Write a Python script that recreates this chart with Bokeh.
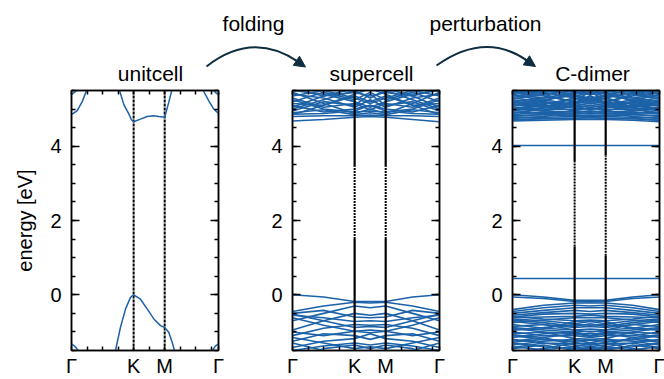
from bokeh.plotting import figure
from bokeh.models import (Range1d, LinearAxis, FixedTicker, SingleIntervalTicker, Arrow,
                          NormalHead, CustomJSTickFormatter)
from bokeh.layouts import column, row
from bokeh.embed import file_html
from bokeh.resources import INLINE
from bokeh.core.properties import value

FONT = "Liberation Sans"
BLUE = "#1c62a8"
NAVY = "#0f2d40"

# ---------------- k-path (units of 1/3 * 2pi/a) ----------------
K_TICKS = [0.0, 4.0, 6.0, 9.464]
K_LABELS = ["Γ", "K", "M", "Γ"]
K_MINOR = [1, 2, 3, 5, 7, 8, 9]
K_POINT = 4.0
M_POINT = 6.0
E_MIN, E_MAX = -1.5, 5.5

panel_titles = ["unitcell", "supercell", "C-dimer"]
arrow_texts = ["folding", "perturbation"]

# ---------------- unit cell bands (k, E) ----------------
uc_vb1_k = [2.83, 3.15, 3.48, 3.80, 4.00, 4.44, 4.87, 5.30, 5.73, 6.00, 6.26, 6.48, 6.63]
uc_vb1_e = [-1.50, -0.88, -0.38, -0.07, 0.00, -0.12, -0.38, -0.65, -0.83, -0.88, -1.01, -1.28, -1.50]
uc_vb2_k = [0.00, 0.20, 0.43]
uc_vb2_e = [-1.32, -1.38, -1.50]
uc_vb3_k = [9.08, 9.26, 9.464]
uc_vb3_e = [-1.50, -1.38, -1.32]
uc_cb1_k = [3.08, 3.37, 3.69, 3.85, 4.00, 4.44, 4.87, 5.28, 5.62, 6.00, 6.26, 6.48]
uc_cb1_e = [5.52, 5.12, 4.87, 4.72, 4.66, 4.73, 4.80, 4.82, 4.80, 4.78, 5.18, 5.54]
uc_cb2_k = [0.00, 0.37, 0.69, 0.97]
uc_cb2_e = [4.85, 4.96, 5.20, 5.50]
uc_cb3_k = [0.00, 0.41]
uc_cb3_e = [5.39, 5.52]
uc_cb4_k = [8.48, 8.84, 9.16, 9.464]
uc_cb4_e = [5.50, 5.22, 5.00, 4.88]
uc_cb5_k = [9.06, 9.464]
uc_cb5_e = [5.52, 5.38]

# ---------------- supercell bands, values at nodes ----------------
sc_k = [0.0, 2.0, 4.0, 5.0, 6.0, 7.732, 9.464]
sc_valence = [
    [0.00, -0.06, -0.18, -0.18, -0.18, -0.06, 0.00],
    [-0.45, -0.30, -0.20, -0.22, -0.20, -0.30, -0.45],
    [-0.50, -0.42, -0.60, -0.62, -0.60, -0.42, -0.50],
    [-0.52, -0.70, -0.88, -0.85, -0.88, -0.70, -0.52],
    [-0.70, -0.50, -0.30, -0.35, -0.30, -0.50, -0.70],
    [-0.62, -0.82, -0.98, -0.95, -0.98, -0.82, -0.62],
    [-0.95, -0.70, -0.50, -0.55, -0.50, -0.70, -0.95],
    [-1.00, -1.10, -0.98, -1.02, -0.98, -1.10, -1.00],
    [-1.10, -0.90, -0.80, -0.82, -0.80, -0.90, -1.10],
    [-1.15, -1.30, -1.45, -1.40, -1.45, -1.30, -1.15],
    [-1.25, -1.05, -1.10, -1.20, -1.10, -1.05, -1.25],
    [-1.30, -1.50, -1.60, -1.55, -1.60, -1.50, -1.30],
    [-1.42, -1.25, -1.18, -1.05, -1.18, -1.25, -1.42],
    [-1.50, -1.38, -1.30, -1.35, -1.30, -1.38, -1.50],
    [-1.70, -1.45, -1.35, -1.45, -1.35, -1.45, -1.70],
    [-0.55, -0.62, -0.72, -0.70, -0.72, -0.62, -0.55],
]
sc_conduction = [
    [4.68, 4.72, 4.78, 4.80, 4.78, 4.72, 4.66],
    [4.80, 4.82, 4.82, 4.84, 4.82, 4.82, 4.80],
    [4.85, 5.10, 5.35, 5.20, 5.35, 5.10, 4.85],
    [4.90, 4.98, 4.85, 4.90, 4.85, 4.98, 4.90],
    [5.45, 5.15, 4.88, 5.00, 4.88, 5.15, 5.45],
    [5.00, 5.25, 5.50, 5.30, 5.50, 5.25, 5.00],
    [5.10, 4.92, 5.00, 5.10, 5.00, 4.92, 5.10],
    [5.20, 5.45, 5.25, 5.45, 5.25, 5.45, 5.20],
    [5.30, 5.05, 5.15, 4.98, 5.15, 5.05, 5.30],
    [5.40, 5.30, 5.05, 5.25, 5.05, 5.30, 5.40],
    [5.55, 5.35, 5.45, 5.35, 5.45, 5.35, 5.55],
    [4.95, 5.20, 5.10, 5.40, 5.10, 5.20, 4.95],
    [5.05, 5.35, 5.55, 5.50, 5.55, 5.35, 5.05],
    [5.25, 5.00, 4.92, 4.95, 4.92, 5.00, 5.25],
    [5.35, 5.50, 5.30, 5.15, 5.30, 5.50, 5.35],
    [5.50, 5.40, 5.20, 5.05, 5.20, 5.40, 5.50],
    [4.86, 4.88, 4.95, 5.10, 4.95, 4.88, 4.86],
    [5.15, 5.10, 5.40, 5.55, 5.40, 5.10, 5.15],
]

# ---------------- C-dimer bands, values at nodes ----------------
cd_valence = [
    [0.00, -0.06, -0.15, -0.15, -0.15, -0.06, 0.00],
    [-0.06, -0.10, -0.18, -0.19, -0.18, -0.10, -0.06],
    [-0.40, -0.28, -0.22, -0.22, -0.22, -0.28, -0.40],
    [-0.45, -0.35, -0.28, -0.30, -0.28, -0.35, -0.45],
    [-0.50, -0.42, -0.35, -0.35, -0.35, -0.42, -0.50],
    [-0.55, -0.48, -0.42, -0.45, -0.42, -0.48, -0.55],
    [-0.60, -0.52, -0.50, -0.52, -0.50, -0.52, -0.60],
    [-0.62, -0.60, -0.58, -0.55, -0.58, -0.60, -0.62],
    [-0.68, -0.75, -0.85, -0.78, -0.85, -0.75, -0.68],
    [-0.72, -0.80, -0.88, -0.85, -0.88, -0.80, -0.72],
    [-0.75, -0.68, -0.62, -0.62, -0.62, -0.68, -0.75],
    [-0.80, -0.90, -0.95, -0.92, -0.95, -0.90, -0.80],
    [-0.85, -0.80, -0.95, -1.00, -0.95, -0.80, -0.85],
    [-0.90, -1.00, -1.05, -1.05, -1.05, -1.00, -0.90],
    [-0.95, -0.88, -0.80, -0.82, -0.80, -0.88, -0.95],
    [-1.00, -1.10, -1.10, -1.15, -1.10, -1.10, -1.00],
    [-1.05, -1.00, -1.18, -1.20, -1.18, -1.00, -1.05],
    [-1.10, -1.20, -1.25, -1.22, -1.25, -1.20, -1.10],
    [-1.15, -1.05, -1.00, -1.10, -1.00, -1.05, -1.15],
    [-1.20, -1.30, -1.32, -1.30, -1.32, -1.30, -1.20],
    [-1.25, -1.15, -1.35, -1.40, -1.35, -1.15, -1.25],
    [-1.30, -1.40, -1.45, -1.42, -1.45, -1.40, -1.30],
    [-1.35, -1.25, -1.20, -1.30, -1.20, -1.25, -1.35],
    [-1.40, -1.48, -1.40, -1.48, -1.40, -1.48, -1.40],
    [-1.45, -1.35, -1.50, -1.45, -1.50, -1.35, -1.45],
    [-1.55, -1.45, -1.30, -1.35, -1.30, -1.45, -1.55],
    [-0.58, -0.65, -0.70, -0.68, -0.70, -0.65, -0.58],
    [-0.95, -0.92, -0.72, -0.70, -0.72, -0.92, -0.95],
    [-0.65, -0.70, -0.78, -0.72, -0.78, -0.70, -0.65],
    [-0.88, -0.95, -1.00, -0.98, -1.00, -0.95, -0.88],
    [-1.08, -1.15, -1.05, -1.12, -1.05, -1.15, -1.08],
    [-1.28, -1.20, -1.28, -1.35, -1.28, -1.20, -1.28],
    [-1.42, -1.30, -1.40, -1.32, -1.40, -1.30, -1.42],
]
cd_defect = [
    [0.44, 0.44, 0.44, 0.44, 0.44, 0.44, 0.44],
    [4.02, 4.02, 4.02, 4.02, 4.02, 4.02, 4.02],
]
cd_conduction = [
    [4.68, 4.70, 4.72, 4.72, 4.72, 4.70, 4.66],
    [4.72, 4.74, 4.76, 4.76, 4.76, 4.74, 4.70],
    [4.78, 4.78, 4.80, 4.80, 4.80, 4.78, 4.76],
    [4.82, 4.85, 4.82, 4.84, 4.82, 4.85, 4.82],
    [4.85, 4.92, 4.88, 4.90, 4.88, 4.92, 4.86],
    [4.90, 4.98, 5.10, 5.05, 5.10, 4.98, 4.90],
    [4.92, 4.88, 4.86, 4.88, 4.86, 4.88, 4.92],
    [4.95, 5.05, 5.20, 5.15, 5.20, 5.05, 4.95],
    [5.00, 4.95, 4.92, 4.95, 4.92, 4.95, 5.00],
    [5.02, 5.12, 5.30, 5.25, 5.30, 5.12, 5.02],
    [5.05, 5.00, 4.98, 5.02, 4.98, 5.00, 5.05],
    [5.08, 5.18, 5.05, 5.10, 5.05, 5.18, 5.08],
    [5.12, 5.08, 5.15, 5.35, 5.15, 5.08, 5.12],
    [5.15, 5.25, 5.38, 5.30, 5.38, 5.25, 5.15],
    [5.18, 5.10, 5.02, 5.00, 5.02, 5.10, 5.18],
    [5.20, 5.30, 5.45, 5.40, 5.45, 5.30, 5.20],
    [5.25, 5.15, 5.25, 5.45, 5.25, 5.15, 5.25],
    [5.28, 5.38, 5.50, 5.48, 5.50, 5.38, 5.28],
    [5.30, 5.20, 5.10, 5.15, 5.10, 5.20, 5.30],
    [5.35, 5.45, 5.30, 5.20, 5.30, 5.45, 5.35],
    [5.38, 5.30, 5.35, 5.28, 5.35, 5.30, 5.38],
    [5.42, 5.50, 5.40, 5.55, 5.40, 5.50, 5.42],
    [5.45, 5.35, 5.20, 5.25, 5.20, 5.35, 5.45],
    [5.50, 5.42, 5.48, 5.38, 5.48, 5.42, 5.50],
    [5.55, 5.48, 5.55, 5.50, 5.55, 5.48, 5.55],
    [4.75, 4.80, 4.90, 4.95, 4.90, 4.80, 4.75],
    [4.70, 4.75, 4.74, 4.78, 4.74, 4.75, 4.70],
    [4.88, 5.02, 5.15, 5.20, 5.15, 5.02, 4.88],
    [4.98, 5.10, 4.95, 5.05, 4.95, 5.10, 4.98],
    [5.10, 5.25, 5.12, 5.28, 5.12, 5.25, 5.10],
    [5.22, 5.05, 5.30, 5.20, 5.30, 5.05, 5.22],
    [5.32, 5.40, 5.18, 5.35, 5.18, 5.40, 5.32],
    [5.40, 5.22, 5.42, 5.45, 5.42, 5.22, 5.40],
    [5.48, 5.55, 5.35, 5.45, 5.35, 5.55, 5.48],
    [5.05, 4.95, 5.08, 4.98, 5.08, 4.95, 5.05],
    [4.80, 4.86, 4.95, 4.92, 4.95, 4.86, 4.80],
]

# dotted (gap) part of the K / M lines in each panel: (low, high)
sc_gap_k = (1.50, 3.45)
sc_gap_m = (1.50, 3.45)
cd_gap_k = (1.30, 3.60)
cd_gap_m = (1.05, 3.75)


def style_axis(ax, show_labels):
    ax.axis_line_color = "black"
    ax.axis_line_width = 1.5
    ax.major_tick_line_color = "black"
    ax.major_tick_line_width = 1.5
    ax.minor_tick_line_color = "black"
    ax.minor_tick_line_width = 1.5
    ax.major_tick_out = 0
    ax.minor_tick_out = 0
    ax.minor_tick_in = 4
    if show_labels:
        ax.major_label_text_font = FONT
        ax.major_label_text_font_size = "20px"
        ax.major_label_text_color = "black"
        ax.major_label_standoff = 10
    else:
        ax.formatter = CustomJSTickFormatter(code="return ''")
        ax.major_label_text_font_size = "1px"
        ax.major_label_standoff = 0


def make_panel(width, left, right, ylabel=None):
    p = figure(width=width, height=291,
               x_range=Range1d(K_TICKS[0], K_TICKS[-1]),
               y_range=Range1d(E_MIN, E_MAX),
               output_backend="svg", toolbar_location=None,
               x_axis_location=None, y_axis_location=None,
               min_border_left=left, min_border_right=right,
               min_border_top=2, min_border_bottom=27)
    p.grid.visible = False
    p.outline_line_color = "black"
    p.outline_line_width = 1.5
    p.background_fill_color = "white"
    p.border_fill_color = "white"

    overrides = {t: l for t, l in zip(K_TICKS, K_LABELS)}
    for loc in ["below", "above"]:
        ax = LinearAxis(ticker=FixedTicker(ticks=K_TICKS, minor_ticks=K_MINOR))
        style_axis(ax, loc == "below")
        ax.major_tick_in = 4
        if loc == "below":
            ax.major_label_overrides = overrides
            ax.major_label_standoff = 4
        p.add_layout(ax, loc)
    for loc in ["left", "right"]:
        ax = LinearAxis(ticker=SingleIntervalTicker(interval=2, num_minor_ticks=4))
        style_axis(ax, loc == "left")
        ax.major_tick_in = 8
        if loc == "left" and ylabel:
            ax.axis_label = ylabel
            ax.axis_label_text_font = FONT
            ax.axis_label_text_font_size = "20px"
            ax.axis_label_text_font_style = "normal"
            ax.axis_label_text_color = "black"
            ax.axis_label_standoff = 11
        p.add_layout(ax, loc)
    return p


def add_vlines_solid_with_gap(p, gaps):
    for kx, (lo, hi) in zip([K_POINT, M_POINT], gaps):
        p.line([kx, kx], [E_MIN, lo], line_color="black", line_width=2.2)
        p.line([kx, kx], [hi, E_MAX], line_color="black", line_width=2.2)
        p.line([kx, kx], [lo, hi], line_color="black", line_width=2.0, line_dash="2 1")


# ---------------- panel 1: unit cell ----------------
p1 = make_panel(240, 71, 22, ylabel="energy [eV]")
for kx in [K_POINT, M_POINT]:
    p1.line([kx, kx], [E_MIN, E_MAX], line_color="black", line_width=2.0, line_dash="3 1")
uc_bands = [(uc_vb1_k, uc_vb1_e), (uc_vb2_k, uc_vb2_e), (uc_vb3_k, uc_vb3_e),
            (uc_cb1_k, uc_cb1_e), (uc_cb2_k, uc_cb2_e), (uc_cb3_k, uc_cb3_e),
            (uc_cb4_k, uc_cb4_e), (uc_cb5_k, uc_cb5_e)]
p1.multi_line(xs=[b[0] for b in uc_bands], ys=[b[1] for b in uc_bands],
              line_color=BLUE, line_width=1.5)

# ---------------- panel 2: supercell ----------------
p2 = make_panel(220, 52, 21)
sc_all = sc_valence + sc_conduction
p2.multi_line(xs=[sc_k] * len(sc_all), ys=sc_all, line_color=BLUE, line_width=1.6)
add_vlines_solid_with_gap(p2, [sc_gap_k, sc_gap_m])

# ---------------- panel 3: C-dimer ----------------
p3 = make_panel(204, 52, 5)
cd_all = cd_valence + cd_defect + cd_conduction
p3.multi_line(xs=[sc_k] * len(cd_all), ys=cd_all, line_color=BLUE, line_width=1.6)
add_vlines_solid_with_gap(p3, [cd_gap_k, cd_gap_m])

# ---------------- header: titles and arrows ----------------
h = figure(width=664, height=88, x_range=Range1d(0, 664), y_range=Range1d(88, 0),
           output_backend="svg", toolbar_location=None,
           x_axis_location=None, y_axis_location=None, min_border=0)
h.grid.visible = False
h.outline_line_color = None
h.text(x=[150, 371, 592], y=[72.5, 72.5, 72.5], text=panel_titles,
       text_font=value(FONT), text_font_size="21px", text_color="black",
       text_align="center", text_baseline="middle")
h.text(x=[253, 485], y=[22.5, 22.5], text=arrow_texts,
       text_font=value(FONT), text_font_size="21px", text_color="black",
       text_align="center", text_baseline="middle")
h.quadratic(x0=[206, 436], y0=[66, 65], x1=[298, 528], y1=[61.5, 61], cx=[252, 485], cy=[30, 30],
            line_color=NAVY, line_width=2)
for (xs_, ys_, xe_, ye_) in [(294, 59, 305, 66.5), (524, 58.5, 535, 66)]:
    h.add_layout(Arrow(end=NormalHead(size=11, fill_color=NAVY, line_color=NAVY),
                       x_start=xs_, y_start=ys_, x_end=xe_, y_end=ye_,
                       line_color=NAVY, line_width=2))

layout = column(h, row(p1, p2, p3))
open("out.html", "w").write(file_html(layout, INLINE))
